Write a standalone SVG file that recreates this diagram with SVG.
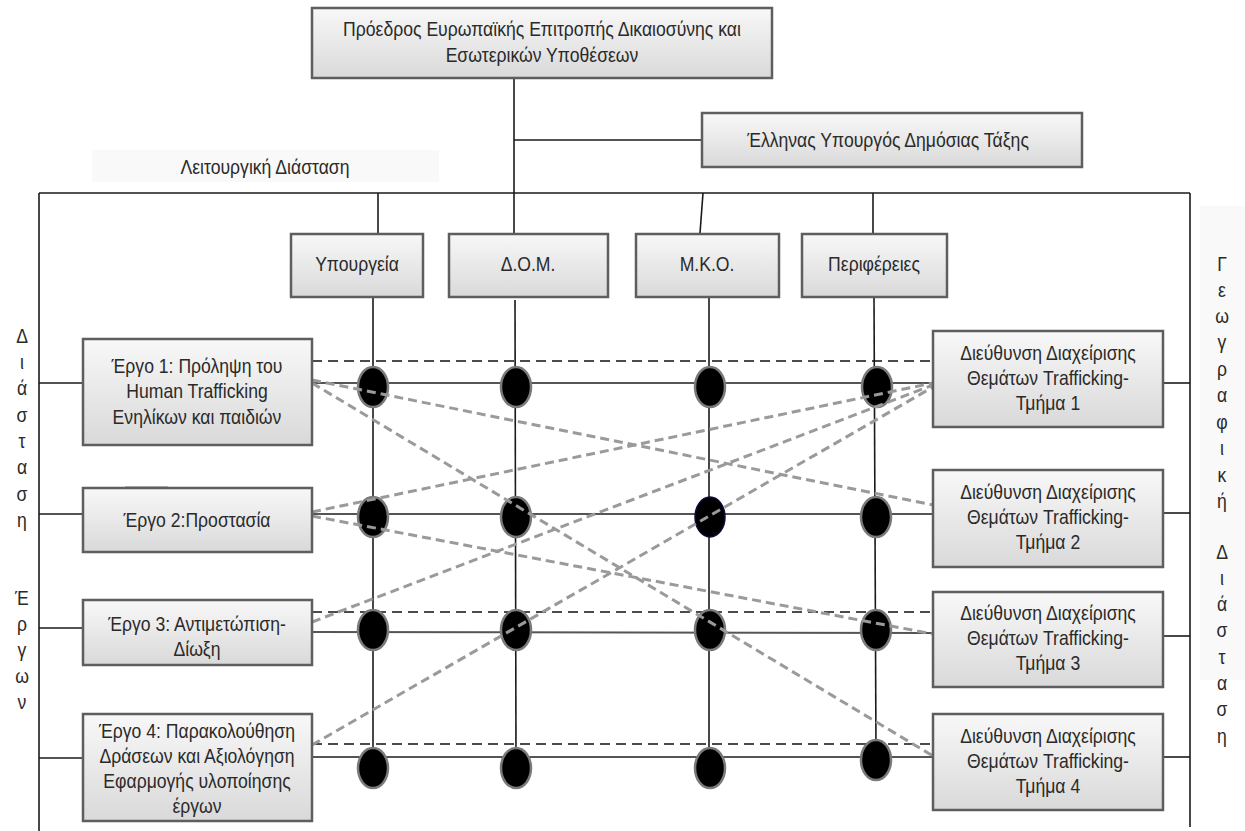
<svg xmlns="http://www.w3.org/2000/svg" width="1245" height="831" viewBox="0 0 1245 831">
<defs>
<linearGradient id="boxfill" x1="0" y1="0" x2="0" y2="1">
<stop offset="0" stop-color="#f8f8f8"/>
<stop offset="1" stop-color="#d9d9d9"/>
</linearGradient>
</defs>
<style>
.box{fill:url(#boxfill);stroke:#5e5e5e;stroke-width:2.5}
.t{font-family:"Liberation Sans",Arial,sans-serif;font-size:20px;fill:#2a2a2a;text-anchor:middle}
.ln{stroke:#1a1a1a;stroke-width:1.6;fill:none}
.row{stroke:#555;stroke-width:2;fill:none}
.bd{stroke:#111;stroke-width:1.6;stroke-dasharray:10 6;fill:none}
.gd{stroke:#9a9a9a;stroke-width:3;stroke-dasharray:9 5;fill:none}
.dot{fill:#000;stroke:#7a7a7a;stroke-width:2.5}
.faint{fill:#f9f9f9}
</style>
<rect width="1245" height="831" fill="#fff"/>
<rect class="faint" x="92" y="150" width="347" height="32"/>
<rect class="faint" x="1200" y="206" width="45" height="474"/>

<g id="connectors">
<line class="ln" x1="514" y1="78" x2="514" y2="233"/>
<line class="ln" x1="514" y1="140" x2="702" y2="140"/>
<line class="ln" x1="39" y1="193" x2="1190" y2="193"/>
<line class="ln" x1="39" y1="193" x2="39" y2="831"/>
<line class="ln" x1="1190" y1="193" x2="1190" y2="827"/>
<line class="ln" x1="378" y1="193" x2="378" y2="233"/>
<line class="ln" x1="703" y1="193" x2="700" y2="233"/>
<line class="ln" x1="873" y1="193" x2="873" y2="233"/>
<line class="ln" x1="39" y1="383" x2="83" y2="383"/>
<line class="ln" x1="39" y1="514" x2="83" y2="514"/>
<line class="ln" x1="39" y1="628" x2="83" y2="628"/>
<line class="ln" x1="39" y1="758" x2="83" y2="758"/>
<line class="ln" x1="1163" y1="383" x2="1190" y2="383"/>
<line class="ln" x1="1163" y1="513" x2="1190" y2="513"/>
<line class="ln" x1="1163" y1="636" x2="1190" y2="636"/>
<line class="ln" x1="1163" y1="757" x2="1190" y2="757"/>
<line x1="125" y1="488" x2="168" y2="488" stroke="#000" stroke-width="2.5"/>
<line class="ln" x1="373" y1="297" x2="373" y2="760"/>
<line class="ln" x1="515" y1="300" x2="516" y2="760"/>
<line class="ln" x1="709" y1="297" x2="709" y2="760"/>
<line class="ln" x1="874" y1="297" x2="876" y2="755"/>
<line class="row" x1="312" y1="383" x2="933" y2="383"/>
<line class="row" x1="312" y1="514" x2="933" y2="514"/>
<line class="row" x1="312" y1="632" x2="933" y2="633"/>
<line class="row" x1="312" y1="757" x2="933" y2="757"/>
<line class="bd" x1="312" y1="361" x2="933" y2="361"/>
<line class="bd" x1="312" y1="612" x2="933" y2="612"/>
<line class="bd" x1="312" y1="744" x2="933" y2="744"/>
</g>

<g id="junctions">
<ellipse id="j11" class="dot" cx="373" cy="387" rx="15" ry="20"/>
<ellipse id="j12" class="dot" cx="516" cy="387" rx="15" ry="20"/>
<ellipse id="j13" class="dot" cx="710" cy="387" rx="15" ry="20"/>
<ellipse id="j14" class="dot" cx="877" cy="387" rx="15" ry="20"/>
<ellipse id="j21" class="dot" cx="373" cy="517" rx="15" ry="20"/>
<ellipse id="j22" class="dot" cx="516" cy="517" rx="15" ry="20"/>
<ellipse id="j23" cx="710" cy="517" rx="15" ry="20" fill="#000" stroke="#0a0a3c" stroke-width="1.5"/>
<ellipse id="j24" class="dot" cx="876" cy="517" rx="15" ry="20"/>
<ellipse id="j31" class="dot" cx="373" cy="630" rx="15" ry="20"/>
<ellipse id="j32" class="dot" cx="516" cy="630" rx="15" ry="20"/>
<ellipse id="j33" class="dot" cx="710" cy="630" rx="15" ry="20"/>
<ellipse id="j34" class="dot" cx="876" cy="630" rx="15" ry="20"/>
<ellipse id="j41" class="dot" cx="373" cy="768" rx="15" ry="20"/>
<ellipse id="j42" class="dot" cx="516" cy="768" rx="15" ry="20"/>
<ellipse id="j43" class="dot" cx="710" cy="768" rx="15" ry="20"/>
<ellipse id="j44" class="dot" cx="876" cy="760" rx="15" ry="20"/>
</g>

<g id="cross-links">
<line class="gd" x1="312" y1="380" x2="933" y2="505"/>
<line class="gd" x1="312" y1="383" x2="933" y2="756"/>
<line class="gd" x1="312" y1="512" x2="933" y2="383"/>
<line class="gd" x1="312" y1="516" x2="933" y2="634"/>
<line class="gd" x1="312" y1="622" x2="933" y2="385"/>
<line class="gd" x1="312" y1="745" x2="933" y2="387"/>
</g>

<g id="president">
<rect class="box" x="312" y="8" width="460" height="70"/>
<text class="t" transform="translate(542 36) scale(0.88 1)"><tspan x="0" y="0">Πρόεδρος Ευρωπαϊκής Επιτροπής Δικαιοσύνης και</tspan><tspan x="0" y="26">Εσωτερικών Υποθέσεων</tspan></text>
</g>
<g id="minister">
<rect class="box" x="702" y="113" width="380" height="54"/>
<text class="t" transform="translate(888 147) scale(0.88 1)" x="0" y="0">Έλληνας Υπουργός Δημόσιας Τάξης</text>
</g>
<g id="label-functional">
<text class="t" transform="translate(265 174) scale(0.88 1)" x="0" y="0">Λειτουργική Διάσταση</text>
</g>
<g id="ministries">
<rect class="box" x="291" y="234" width="132" height="63"/>
<text class="t" transform="translate(357 271) scale(0.88 1)" x="0" y="0">Υπουργεία</text>
</g>
<g id="dom">
<rect class="box" x="449" y="234" width="159" height="63"/>
<text class="t" transform="translate(528 271) scale(0.88 1)" x="0" y="0">Δ.Ο.Μ.</text>
</g>
<g id="mko">
<rect class="box" x="636" y="234" width="143" height="63"/>
<text class="t" transform="translate(707 271) scale(0.88 1)" x="0" y="0">Μ.Κ.Ο.</text>
</g>
<g id="regions">
<rect class="box" x="802" y="234" width="145" height="63"/>
<text class="t" transform="translate(874 271) scale(0.88 1)" x="0" y="0">Περιφέρειες</text>
</g>

<g id="project1">
<rect class="box" x="83" y="339" width="229" height="106"/>
<text class="t" transform="translate(197 373) scale(0.88 1)"><tspan x="0" y="0">Έργο 1: Πρόληψη του</tspan><tspan x="0" y="25.5">Human Trafficking</tspan><tspan x="0" y="51">Ενηλίκων και παιδιών</tspan></text>
</g>
<g id="project2">
<rect class="box" x="83" y="488" width="229" height="64"/>
<text class="t" transform="translate(197 527) scale(0.88 1)" x="0" y="0">Έργο 2:Προστασία</text>
</g>
<g id="project3">
<rect class="box" x="83" y="600" width="229" height="65"/>
<text class="t" transform="translate(197 631) scale(0.88 1)"><tspan x="0" y="0">Έργο 3: Αντιμετώπιση-</tspan><tspan x="0" y="25">Δίωξη</tspan></text>
</g>
<g id="project4">
<rect class="box" x="83" y="714" width="229" height="107"/>
<text class="t" transform="translate(197 738) scale(0.88 1)"><tspan x="0" y="0">Έργο 4: Παρακολούθηση</tspan><tspan x="0" y="25">Δράσεων και Αξιολόγηση</tspan><tspan x="0" y="50">Εφαρμογής υλοποίησης</tspan><tspan x="0" y="75">έργων</tspan></text>
</g>

<g id="dept1">
<rect class="box" x="933" y="331" width="230" height="96"/>
<text class="t" transform="translate(1048 360) scale(0.88 1)"><tspan x="0" y="0">Διεύθυνση Διαχείρισης</tspan><tspan x="0" y="25">Θεμάτων Trafficking-</tspan><tspan x="0" y="50">Τμήμα 1</tspan></text>
</g>
<g id="dept2">
<rect class="box" x="933" y="470" width="230" height="97"/>
<text class="t" transform="translate(1048 499) scale(0.88 1)"><tspan x="0" y="0">Διεύθυνση Διαχείρισης</tspan><tspan x="0" y="25">Θεμάτων Trafficking-</tspan><tspan x="0" y="50">Τμήμα 2</tspan></text>
</g>
<g id="dept3">
<rect class="box" x="933" y="592" width="230" height="95"/>
<text class="t" transform="translate(1048 620) scale(0.88 1)"><tspan x="0" y="0">Διεύθυνση Διαχείρισης</tspan><tspan x="0" y="25">Θεμάτων Trafficking-</tspan><tspan x="0" y="50">Τμήμα 3</tspan></text>
</g>
<g id="dept4">
<rect class="box" x="933" y="714" width="230" height="96"/>
<text class="t" transform="translate(1048 743) scale(0.88 1)"><tspan x="0" y="0">Διεύθυνση Διαχείρισης</tspan><tspan x="0" y="25">Θεμάτων Trafficking-</tspan><tspan x="0" y="50">Τμήμα 4</tspan></text>
</g>

<g id="label-projects">
<text class="t" transform="translate(22 0) scale(0.88 1)"><tspan x="0" y="343">Δ</tspan><tspan x="0" y="369">ι</tspan><tspan x="0" y="395">ά</tspan><tspan x="0" y="422">σ</tspan><tspan x="0" y="448">τ</tspan><tspan x="0" y="474">α</tspan><tspan x="0" y="501">σ</tspan><tspan x="0" y="527">η</tspan><tspan x="0" y="605">Έ</tspan><tspan x="0" y="631">ρ</tspan><tspan x="0" y="657">γ</tspan><tspan x="0" y="683">ω</tspan><tspan x="0" y="709">ν</tspan></text>
</g>
<g id="label-geographic">
<text class="t" transform="translate(1222 0) scale(0.88 1)"><tspan x="0" y="271">Γ</tspan><tspan x="0" y="297">ε</tspan><tspan x="0" y="323">ω</tspan><tspan x="0" y="349">γ</tspan><tspan x="0" y="376">ρ</tspan><tspan x="0" y="402">α</tspan><tspan x="0" y="429">φ</tspan><tspan x="0" y="455">ι</tspan><tspan x="0" y="482">κ</tspan><tspan x="0" y="508">ή</tspan><tspan x="0" y="559">Δ</tspan><tspan x="0" y="585">ι</tspan><tspan x="0" y="611">ά</tspan><tspan x="0" y="637">σ</tspan><tspan x="0" y="664">τ</tspan><tspan x="0" y="690">α</tspan><tspan x="0" y="716">σ</tspan><tspan x="0" y="743">η</tspan></text>
</g>
</svg>
